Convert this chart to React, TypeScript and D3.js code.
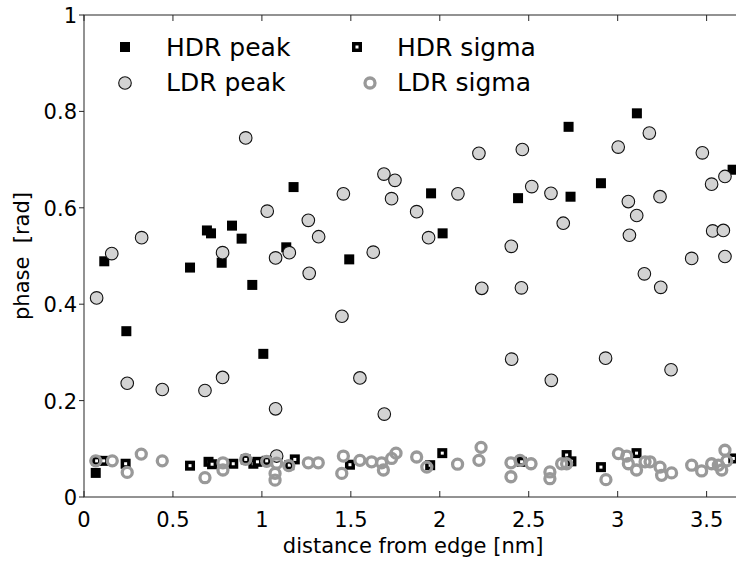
import React from "react";
import * as d3 from "d3";

// ---- data ----
const hdrPeakX = [0.066, 0.114, 0.238, 0.596, 0.691, 0.714, 0.774, 0.832, 0.886, 0.946, 1.008, 1.137, 1.178, 1.491, 1.951, 2.016, 2.44, 2.724, 2.735, 2.906, 3.108, 3.646];
const hdrPeakY = [0.05, 0.489, 0.344, 0.476, 0.553, 0.547, 0.486, 0.563, 0.536, 0.44, 0.297, 0.518, 0.643, 0.493, 0.63, 0.547, 0.62, 0.768, 0.623, 0.651, 0.796, 0.679];

const ldrPeakX = [0.071, 0.156, 0.243, 0.324, 0.44, 0.68, 0.779, 0.779, 0.909, 1.03, 1.077, 1.077, 1.083, 1.154, 1.261, 1.266, 1.319, 1.45, 1.458, 1.551, 1.626, 1.686, 1.688, 1.729, 1.748, 1.87, 1.937, 2.102, 2.22, 2.236, 2.402, 2.404, 2.459, 2.464, 2.517, 2.625, 2.627, 2.694, 2.932, 3.003, 3.06, 3.066, 3.107, 3.15, 3.178, 3.238, 3.242, 3.3, 3.416, 3.476, 3.528, 3.534, 3.594, 3.603, 3.603];
const ldrPeakY = [0.413, 0.505, 0.236, 0.538, 0.223, 0.221, 0.507, 0.248, 0.745, 0.593, 0.496, 0.183, 0.085, 0.507, 0.574, 0.464, 0.54, 0.375, 0.629, 0.247, 0.508, 0.67, 0.172, 0.619, 0.657, 0.592, 0.538, 0.629, 0.713, 0.433, 0.52, 0.286, 0.434, 0.721, 0.644, 0.63, 0.242, 0.568, 0.288, 0.726, 0.613, 0.543, 0.584, 0.463, 0.755, 0.623, 0.435, 0.264, 0.495, 0.714, 0.649, 0.552, 0.553, 0.665, 0.499];

const hdrSigmaX = [0.071, 0.11, 0.234, 0.596, 0.7, 0.72, 0.839, 0.909, 0.952, 0.975, 1.027, 1.154, 1.185, 1.495, 1.946, 2.014, 2.46, 2.713, 2.74, 2.906, 3.106, 3.65];
const hdrSigmaY = [0.075, 0.075, 0.069, 0.065, 0.073, 0.068, 0.069, 0.078, 0.069, 0.073, 0.075, 0.066, 0.078, 0.067, 0.066, 0.091, 0.073, 0.087, 0.074, 0.062, 0.091, 0.08];

const ldrSigmaX = [0.066, 0.159, 0.243, 0.322, 0.44, 0.68, 0.781, 0.781, 0.909, 1.027, 1.083, 1.074, 1.074, 1.151, 1.261, 1.317, 1.458, 1.449, 1.551, 1.617, 1.673, 1.683, 1.729, 1.754, 1.87, 1.927, 2.1, 2.232, 2.22, 2.4, 2.4, 2.451, 2.513, 2.619, 2.619, 2.685, 2.713, 2.934, 3.004, 3.051, 3.06, 3.106, 3.154, 3.182, 3.238, 3.247, 3.303, 3.416, 3.472, 3.528, 3.566, 3.585, 3.603, 3.613];
const ldrSigmaY = [0.075, 0.075, 0.051, 0.089, 0.075, 0.04, 0.071, 0.056, 0.078, 0.074, 0.07, 0.049, 0.035, 0.065, 0.071, 0.071, 0.085, 0.049, 0.076, 0.073, 0.071, 0.056, 0.08, 0.091, 0.083, 0.062, 0.068, 0.103, 0.076, 0.071, 0.042, 0.076, 0.069, 0.052, 0.038, 0.069, 0.069, 0.036, 0.09, 0.085, 0.069, 0.056, 0.073, 0.073, 0.062, 0.045, 0.05, 0.066, 0.054, 0.069, 0.066, 0.056, 0.097, 0.075];

const xTicks = [0, 0.5, 1, 1.5, 2, 2.5, 3, 3.5];
const yTicks = [0, 0.2, 0.4, 0.6, 0.8, 1];
const legendLabels = ["HDR peak", "LDR peak", "HDR sigma", "LDR sigma"];

const W = 736;
const H = 565;
const FONT = "'DejaVu Sans', sans-serif";
const AX = "#262626";

export default function App() {
  const x = d3.scaleLinear().domain([0, 3.7]).range([84, 742.2]);
  const y = d3.scaleLinear().domain([0, 1]).range([497, 15]);
  const [x0, x1] = x.range();
  const [y0, y1] = y.range();
  const fmt = (v: number) => String(v);

  const sq = 10;
  const hdrPeak = hdrPeakX.map((v, i) => [v, hdrPeakY[i]]);
  const ldrPeak = ldrPeakX.map((v, i) => [v, ldrPeakY[i]]);
  const hdrSigma = hdrSigmaX.map((v, i) => [v, hdrSigmaY[i]]);
  const ldrSigma = ldrSigmaX.map((v, i) => [v, ldrSigmaY[i]]);

  const HdrPeakMark = ({ cx, cy }: { cx: number; cy: number }) => (
    <rect x={cx - sq / 2} y={cy - sq / 2} width={sq} height={sq} fill="#000" />
  );
  const LdrPeakMark = ({ cx, cy }: { cx: number; cy: number }) => (
    <circle cx={cx} cy={cy} r={6.3} fill="#d3d3d3" stroke="#111" strokeWidth={1.1} />
  );
  const HdrSigmaMark = ({ cx, cy }: { cx: number; cy: number }) => (
    <g>
      <rect x={cx - sq / 2} y={cy - sq / 2} width={sq} height={sq} fill="#000" />
      <rect x={cx - 1.5} y={cy - 1.5} width={3} height={3} fill="#fff" />
    </g>
  );
  const LdrSigmaMark = ({ cx, cy }: { cx: number; cy: number }) => (
    <circle cx={cx} cy={cy} r={5} fill="none" stroke="#999" strokeWidth={3.3} />
  );

  return (
    <svg width={W} height={H} style={{ position: "absolute", left: 0, top: 0, background: "#fff" }}>
      <defs>
        <clipPath id="plotClip">
          <rect x={x0} y={y1} width={x1 - x0} height={y0 - y1} />
        </clipPath>
      </defs>
      <rect x={0} y={0} width={W} height={H} fill="#fff" />

      {/* data */}
      <g clipPath="url(#plotClip)">
        {hdrPeak.map(([a, b], i) => <HdrPeakMark key={"hp" + i} cx={x(a)} cy={y(b)} />)}
        {ldrPeak.map(([a, b], i) => <LdrPeakMark key={"lp" + i} cx={x(a)} cy={y(b)} />)}
        {hdrSigma.map(([a, b], i) => <HdrSigmaMark key={"hs" + i} cx={x(a)} cy={y(b)} />)}
        {ldrSigma.map(([a, b], i) => <LdrSigmaMark key={"ls" + i} cx={x(a)} cy={y(b)} />)}
      </g>

      {/* frame */}
      <rect x={x0} y={y1} width={x1 - x0} height={y0 - y1} fill="none" stroke={AX} strokeWidth={1} />

      {/* x ticks */}
      {xTicks.map((t) => (
        <g key={"xt" + t}>
          <line x1={x(t)} x2={x(t)} y1={y0} y2={y0 - 6} stroke={AX} />
          <line x1={x(t)} x2={x(t)} y1={y1} y2={y1 + 6} stroke={AX} />
          <text x={x(t)} y={y0 + 30} textAnchor="middle" fontFamily={FONT} fontSize={21} fill="#000">
            {fmt(t)}
          </text>
        </g>
      ))}

      {/* y ticks */}
      {yTicks.map((t) => (
        <g key={"yt" + t}>
          <line x1={x0} x2={x0 - 5} y1={y(t)} y2={y(t)} stroke={AX} />
          <text x={x0 - 7} y={y(t) + 8} textAnchor="end" fontFamily={FONT} fontSize={21} fill="#000">
            {fmt(t)}
          </text>
        </g>
      ))}

      {/* axis labels */}
      <text x={(x0 + x1) / 2} y={553} textAnchor="middle" fontFamily={FONT} fontSize={21} fill="#000">
        distance from edge [nm]
      </text>
      <text
        transform={`translate(29, ${(y0 + y1) / 2}) rotate(-90)`}
        textAnchor="middle"
        fontFamily={FONT}
        fontSize={21}
        fill="#000"
        style={{ whiteSpace: "pre" }}
      >
        {"phase  [rad]"}
      </text>

      {/* legend */}
      <HdrPeakMark cx={125} cy={47} />
      <text x={166} y={56} fontFamily={FONT} fontSize={25} fill="#000">{legendLabels[0]}</text>
      <LdrPeakMark cx={125} cy={83} />
      <text x={166} y={91} fontFamily={FONT} fontSize={25} fill="#000">{legendLabels[1]}</text>
      <HdrSigmaMark cx={357} cy={47} />
      <text x={397} y={56} fontFamily={FONT} fontSize={25} fill="#000">{legendLabels[2]}</text>
      <LdrSigmaMark cx={370} cy={83} />
      <text x={397} y={91} fontFamily={FONT} fontSize={25} fill="#000">{legendLabels[3]}</text>
    </svg>
  );
}
